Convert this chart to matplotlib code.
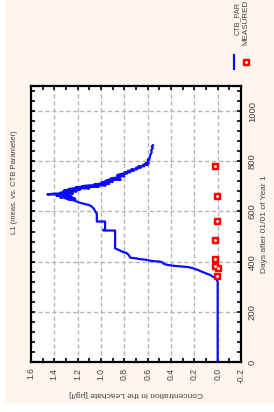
#!/usr/bin/env python3
"""Leachate concentration L1: measured vs CTB parameter (rotated page layout)."""
import matplotlib
matplotlib.use('Agg')
import matplotlib.pyplot as plt
from matplotlib.ticker import MultipleLocator, FormatStrFormatter
from matplotlib.lines import Line2D
from matplotlib.patches import Rectangle

plt.rcParams['font.family'] = ['Liberation Sans', 'DejaVu Sans']

# CTB_PAR simulated curve (days, concentration ug/l)
ctb_days = [0, 320, 330, 338, 347, 353, 360, 367, 373, 378, 380, 384, 388, 392,
            396, 400, 402, 404, 408, 410, 413, 416, 425, 434, 440, 445, 450, 453,
            524, 524, 527, 527, 560, 560, 593, 600, 610, 620, 625, 631, 636, 640,
            645, 647,
            650, 650, 653, 653, 656, 656, 659, 659, 662, 662, 665, 665, 668, 668,
            671, 671, 674, 674, 677, 677, 680, 680, 683, 683, 686, 686, 689, 689,
            692, 692, 695, 695, 698, 698, 701, 701, 704, 704, 707, 707, 710, 710,
            714, 714, 718, 718, 722, 722, 726, 726, 730, 730, 734, 734, 740, 740,
            745, 745, 750, 750, 756, 756, 762, 762, 768, 768, 774, 774, 780, 780,
            786, 786, 792, 792, 800, 806, 806, 812, 820, 828, 836, 845, 852, 858, 864]
ctb_conc = [0.0, 0.0, 0.01, 0.035, 0.064, 0.10, 0.135, 0.17, 0.207, 0.25, 0.293, 0.39, 0.44, 0.464,
            0.47, 0.493, 0.55, 0.58, 0.62, 0.664, 0.70, 0.75, 0.76, 0.78, 0.82, 0.84, 0.864, 0.879,
            0.879, 0.98, 0.98, 0.965, 0.965, 1.036, 1.036, 1.05, 1.06, 1.08, 1.10, 1.15, 1.19, 1.21,
            1.24, 1.28,
            1.29, 1.22, 1.24, 1.31, 1.28, 1.35, 1.30, 1.25, 1.28, 1.38, 1.33, 1.28, 1.30, 1.46,
            1.40, 1.24, 1.26, 1.35, 1.31, 1.26, 1.29, 1.21, 1.24, 1.32, 1.27, 1.18, 1.22, 1.28,
            1.24, 1.10, 1.14, 1.22, 1.17, 1.02, 1.06, 1.16, 1.10, 0.96, 1.00, 1.06, 1.02, 0.93,
            0.97, 1.00, 0.97, 0.90, 0.92, 0.96, 0.93, 0.83, 0.86, 0.92, 0.89, 0.84, 0.86, 0.80,
            0.83, 0.86, 0.82, 0.78, 0.80, 0.75, 0.77, 0.72, 0.74, 0.69, 0.70, 0.66, 0.68, 0.63,
            0.64, 0.60, 0.62, 0.59, 0.60, 0.585, 0.60, 0.585, 0.58, 0.575, 0.565, 0.57, 0.555, 0.565, 0.555]

# MEASURED samples
meas_days = [343, 373, 382, 411, 488, 560, 663, 783]
meas_conc = [0.005, 0.0, 0.02, 0.025, 0.02, 0.005, 0.005, 0.025]

W, H = 274, 412


def fx(px):
    return px / W


def fy(py):
    return 1 - py / H


fig = plt.figure(figsize=(W / 100, H / 100), dpi=100, facecolor='white')
fig.add_artist(Rectangle((fx(5), fy(403)), 1, 1, transform=fig.transFigure,
                         facecolor='#fdf5ee', edgecolor='none', zorder=0))

ax = fig.add_axes([fx(31), fy(362), (241 - 31) / W, (362 - 86) / H])
ax.set_facecolor('white')
ax.plot(ctb_conc, ctb_days, color='#0a0aff', lw=1.6, zorder=3)
ax.plot(meas_conc, meas_days, ls='none', marker='s', ms=3.8,
        mfc='red', mec='red', zorder=4)
ax.plot(meas_conc, meas_days, ls='none', marker='s', ms=0.9,
        mfc='white', mec='white', zorder=5)

ax.set_xlim(1.6, -0.2)
ax.set_ylim(0, 1100)
ax.xaxis.set_major_locator(MultipleLocator(0.2))
ax.xaxis.set_minor_locator(MultipleLocator(0.1))
ax.xaxis.set_major_formatter(FormatStrFormatter('%.1f'))
ax.yaxis.set_major_locator(MultipleLocator(200))
ax.yaxis.set_minor_locator(MultipleLocator(40))
ax.grid(True, which='major', color='#b4b4b4', lw=1.0, ls=(0, (3, 2)), zorder=1)
ax.set_axisbelow(True)

ax.tick_params(which='both', direction='in', top=True, bottom=True,
               left=True, right=True, labelleft=False, labelright=True,
               length=3, width=1.2, color='black')
ax.tick_params(axis='x', labelrotation=90, labelsize=6.2, pad=4, labelcolor='#404040')
ax.tick_params(axis='y', labelrotation=90, labelsize=6.8, pad=5, labelcolor='#404040')
for lab in ax.get_yticklabels():
    lab.set_va('center')
for sp in ax.spines.values():
    sp.set_linewidth(1.6)
    sp.set_color('black')

# titles / labels (page is turned by 90 degrees)
fig.text(fx(15), fy(182), 'L1 (meas. vs. CTB Parameter)', rotation=90,
         ha='center', va='center', fontsize=5.5, color='#404040')
fig.text(fx(265), fy(224), 'Days after 01/01 of Year 1', rotation=90,
         ha='center', va='center', fontsize=6, color='#404040')
fig.text(fx(136), fy(393), 'Concentration in the Leachate [µg/l]', rotation=180,
         ha='center', va='center', fontsize=6, color='#404040')

# legend
fig.add_artist(Line2D([fx(234.3), fx(234.3)], [fy(69), fy(55)], transform=fig.transFigure,
                      color='#0a0aff', lw=1.6))
fig.add_artist(Line2D([fx(245.7)], [fy(61.7)], transform=fig.transFigure, ls='none',
                      marker='s', ms=3.8, mfc='red', mec='red'))
fig.add_artist(Line2D([fx(245.7)], [fy(61.7)], transform=fig.transFigure, ls='none',
                      marker='s', ms=0.9, mfc='white', mec='white'))
fig.text(fx(237), fy(35), 'CTB_PAR', rotation=90, ha='center', va='bottom',
         fontsize=5.2, color='#404040')
fig.text(fx(245.7), fy(45), 'MEASURED', rotation=90, ha='center', va='bottom',
         fontsize=5.8, color='#404040')

fig.savefig('out.png', dpi=100, facecolor=fig.get_facecolor())
print('Wrote out.png')
